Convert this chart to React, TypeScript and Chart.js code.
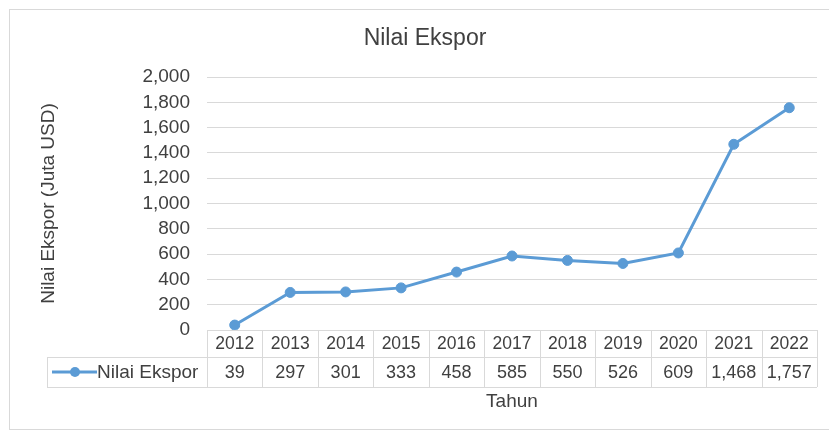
import React, { useEffect, useRef } from "react";
import { Chart, registerables } from "chart.js";

Chart.register(...registerables);

const chartTitle = "Nilai Ekspor";
const seriesName = "Nilai Ekspor";
const yAxisTitle = "Nilai Ekspor (Juta USD)";
const xAxisTitle = "Tahun";
const categories = ["2012", "2013", "2014", "2015", "2016", "2017", "2018", "2019", "2020", "2021", "2022"];
const values = [39, 297, 301, 333, 458, 585, 550, 526, 609, 1468, 1757];
const yMin = 0;
const yMax = 2000;
const yStep = 200;

const FONT = "'Liberation Sans', Arial, sans-serif";
const TEXT = "#404040";
const GRID = "#d9d9d9";
const BLUE = "#5b9bd5";

const fmt = (v: number) => v.toLocaleString("en-US");

const tablePlugin = {
  id: "dataTable",
  afterDraw(chart: any) {
    const ctx = chart.ctx as CanvasRenderingContext2D;
    const x = chart.scales.x;
    const area = chart.chartArea;
    const n = categories.length;
    const cw = n > 1 ? x.getPixelForValue(1) - x.getPixelForValue(0) : x.width;
    const top = area.bottom;
    const r1 = top + 27;
    const r2 = r1 + 30;
    const legendLeft = 47;

    ctx.save();
    // title
    ctx.fillStyle = TEXT;
    ctx.font = `23px ${FONT}`;
    ctx.textAlign = "center";
    ctx.textBaseline = "middle";
    ctx.fillText(chartTitle, 425, 39);

    // table lines
    ctx.strokeStyle = GRID;
    ctx.lineWidth = 1;
    ctx.beginPath();
    ctx.moveTo(x.left, top + 0.5);
    ctx.lineTo(x.right, top + 0.5);
    ctx.moveTo(legendLeft, r1 + 0.5);
    ctx.lineTo(x.right, r1 + 0.5);
    ctx.moveTo(legendLeft, r2 + 0.5);
    ctx.lineTo(x.right, r2 + 0.5);
    for (let i = 0; i <= n; i++) {
      const bx = Math.round(x.getPixelForValue(Math.min(i, n - 1)) + (i < n ? -cw / 2 : cw / 2)) + 0.5;
      ctx.moveTo(bx, top);
      ctx.lineTo(bx, r2);
    }
    ctx.moveTo(legendLeft + 0.5, r1);
    ctx.lineTo(legendLeft + 0.5, r2);
    ctx.stroke();

    // text
    ctx.fillStyle = TEXT;
    ctx.textAlign = "center";
    ctx.textBaseline = "middle";
    for (let i = 0; i < n; i++) {
      const cx = x.getPixelForValue(i);
      ctx.font = `17.5px ${FONT}`;
      ctx.fillText(categories[i], cx, (top + r1) / 2 + 1);
      ctx.font = `18px ${FONT}`;
      ctx.fillText(fmt(values[i]), cx, (r1 + r2) / 2 + 1);
    }

    // legend key
    const ly = (r1 + r2) / 2;
    ctx.strokeStyle = BLUE;
    ctx.lineWidth = 3;
    ctx.beginPath();
    ctx.moveTo(52, ly);
    ctx.lineTo(97, ly);
    ctx.stroke();
    ctx.fillStyle = BLUE;
    ctx.beginPath();
    ctx.arc(75, ly, 5, 0, Math.PI * 2);
    ctx.fill();
    ctx.fillStyle = TEXT;
    ctx.textAlign = "left";
    ctx.font = `19px ${FONT}`;
    ctx.fillText(seriesName, 97, ly + 1);
    ctx.restore();
  },
};

export default function App() {
  const ref = useRef<HTMLCanvasElement>(null);

  useEffect(() => {
    if (!ref.current) return;
    const chart = new Chart(ref.current, {
      type: "line",
      data: {
        labels: categories,
        datasets: [
          {
            label: seriesName,
            data: values,
            borderColor: BLUE,
            backgroundColor: BLUE,
            borderWidth: 3,
            pointRadius: 5,
            pointBackgroundColor: BLUE,
            pointBorderColor: BLUE,
            pointBorderWidth: 1,
            tension: 0,
            clip: false as any,
          },
        ],
      },
      options: {
        responsive: false,
        animation: false,
        layout: { padding: { left: 0, right: 12, top: 77, bottom: 0 } },
        plugins: {
          legend: { display: false },
          tooltip: { enabled: false },
          title: { display: false },
        },
        scales: {
          x: {
            offset: true,
            grid: { display: false, drawTicks: false },
            border: { display: false },
            ticks: { display: false },
            title: {
              display: true,
              text: xAxisTitle,
              color: TEXT,
              font: { family: FONT, size: 19 },
              padding: { top: 0, bottom: 20 },
            },
            afterFit: (s: any) => {
              s.height = 103;
            },
          },
          y: {
            min: yMin,
            max: yMax,
            grid: { color: GRID, drawTicks: false, lineWidth: 1 },
            border: { display: false },
            ticks: {
              stepSize: yStep,
              autoSkip: false,
              padding: 17,
              color: TEXT,
              font: { family: FONT, size: 19 },
              callback: (v: any) => fmt(Number(v)),
            },
            title: {
              display: true,
              text: yAxisTitle,
              color: TEXT,
              font: { family: FONT, size: 19 },
              padding: { top: 37, bottom: 0 },
            },
            afterFit: (s: any) => {
              s.width = 207;
            },
          },
        },
      },
      plugins: [tablePlugin],
    });
    return () => chart.destroy();
  }, []);

  return (
    <div style={{ position: "fixed", left: 0, top: 0, width: 829, height: 433, overflow: "hidden", background: "#fff" }}>
      <div
        style={{
          position: "absolute",
          left: 9,
          top: 9,
          width: 840,
          height: 421,
          border: "1px solid #d9d9d9",
          boxSizing: "border-box",
        }}
      />
      <canvas ref={ref} width={829} height={433} style={{ position: "absolute", left: 0, top: 0, width: 829, height: 433 }} />
    </div>
  );
}
